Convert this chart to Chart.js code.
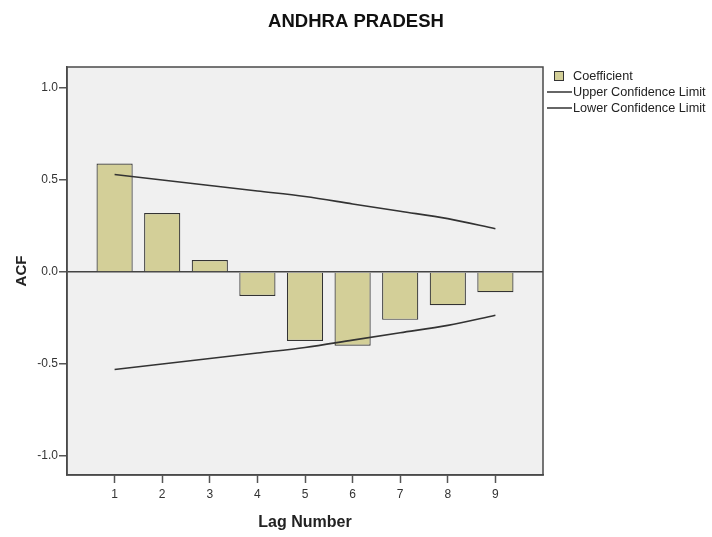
<!DOCTYPE html>
<html>
<head>
<meta charset="utf-8">
<title>ANDHRA PRADESH</title>
<script src="https://cdn.jsdelivr.net/npm/chart.js@4/dist/chart.umd.min.js"></script>
<style>
  html, body { margin: 0; padding: 0; background: #ffffff; }
  #wrap { width: 712px; height: 537px; position: relative; }
</style>
</head>
<body>
<div id="wrap"><canvas id="acfChart"></canvas></div>
<script>
// ACF by lag
const lags = [1, 2, 3, 4, 5, 6, 7, 8, 9];
const coefficient = [0.59, 0.32, 0.065, -0.13, -0.375, -0.40, -0.26, -0.18, -0.11];
const upperLimit = [0.53, 0.50, 0.47, 0.44, 0.41, 0.37, 0.33, 0.29, 0.235];
const lowerLimit = [-0.53, -0.50, -0.47, -0.44, -0.41, -0.37, -0.33, -0.29, -0.235];
const yTicks = [-1.0, -0.5, 0.0, 0.5, 1.0];

const FONT = 'Arial, "Liberation Sans", sans-serif';

const toPoints = (vals) => lags.map((lag, i) => ({ x: lag, y: vals[i] }));

// grey plot panel + frame
const panel = {
  id: 'panel',
  beforeDraw(chart) {
    const { ctx, chartArea: a } = chart;
    ctx.save();
    ctx.fillStyle = '#f0f0f0';
    ctx.fillRect(a.left, a.top, a.right - a.left, a.bottom - a.top);
    ctx.restore();
  },
  afterDraw(chart) {
    const { ctx, chartArea: a } = chart;
    ctx.save();
    ctx.strokeStyle = '#4a4a4a';
    ctx.lineWidth = 1.5;
    ctx.strokeRect(a.left, a.top, a.right - a.left, a.bottom - a.top);
    ctx.restore();
  }
};

// legend on the right, SPSS style
const sideLegend = {
  id: 'sideLegend',
  afterDraw(chart) {
    const ctx = chart.ctx;
    const x = 547, textX = 573;
    let y = 76;
    ctx.save();
    ctx.font = '12.7px ' + FONT;
    ctx.textBaseline = 'middle';
    chart.data.datasets.forEach((ds) => {
      if (ds.type === 'line') {
        ctx.strokeStyle = ds.borderColor;
        ctx.lineWidth = 1.5;
        ctx.beginPath();
        ctx.moveTo(x, y);
        ctx.lineTo(textX - 1, y);
        ctx.stroke();
      } else {
        ctx.fillStyle = ds.backgroundColor;
        ctx.fillRect(x + 7.5, y - 4.5, 9, 9);
        ctx.strokeStyle = ds.borderColor;
        ctx.lineWidth = 1;
        ctx.strokeRect(x + 7.5, y - 4.5, 9, 9);
      }
      ctx.fillStyle = '#222';
      ctx.fillText(ds.label, textX, y);
      y += 16;
    });
    ctx.restore();
  }
};

const ctx = document.getElementById('acfChart').getContext('2d');
new Chart(ctx, {
  type: 'bar',
  data: {
    datasets: [
      {
        label: 'Coefficient',
        data: toPoints(coefficient),
        backgroundColor: '#d3cf98',
        borderColor: '#333333',
        borderWidth: 1.2,
        barPercentage: 0.76,
        categoryPercentage: 1,
        order: 2
      },
      {
        type: 'line',
        label: 'Upper Confidence Limit',
        data: toPoints(upperLimit),
        borderColor: '#333333',
        borderWidth: 1.6,
        pointRadius: 0,
        cubicInterpolationMode: 'monotone',
        fill: false,
        order: 1
      },
      {
        type: 'line',
        label: 'Lower Confidence Limit',
        data: toPoints(lowerLimit),
        borderColor: '#333333',
        borderWidth: 1.6,
        pointRadius: 0,
        cubicInterpolationMode: 'monotone',
        fill: false,
        order: 1
      }
    ]
  },
  options: {
    responsive: true,
    maintainAspectRatio: false,
    animation: false,
    layout: { padding: 0 },
    plugins: {
      legend: { display: false },
      tooltip: { enabled: false },
      title: {
        display: true,
        text: 'ANDHRA PRADESH',
        color: '#111',
        font: { family: FONT, size: 18.5, weight: 'bold', lineHeight: 1.2 },
        padding: { top: 11, bottom: 33.8 }
      }
    },
    scales: {
      x: {
        type: 'linear',
        min: 0,
        max: 10,
        offset: false,
        afterFit(scale) { scale.height = 62; },
        afterBuildTicks(scale) { scale.ticks = lags.map(v => ({ value: v })); },
        ticks: {
          color: '#333',
          font: { family: FONT, size: 12 },
          padding: 4,
          maxRotation: 0,
          callback: (v) => String(v)
        },
        grid: { offset: false, drawOnChartArea: false, drawTicks: true, tickLength: 8, tickColor: '#555', tickWidth: 1.5 },
        border: { display: true, color: '#4a4a4a', width: 1.5 },
        title: {
          display: true,
          text: 'Lag Number',
          color: '#222',
          font: { family: FONT, size: 16, weight: 'bold', lineHeight: 1.2 },
          padding: { top: 0, bottom: 5 }
        }
      },
      y: {
        min: -1.103,
        max: 1.114,
        afterFit(scale) { scale.width = 67; },
        afterBuildTicks(scale) { scale.ticks = yTicks.map(v => ({ value: v })); },
        ticks: {
          color: '#333',
          font: { family: FONT, size: 12 },
          padding: 1,
          callback: (v) => Number(v).toFixed(1)
        },
        grid: {
          drawOnChartArea: true,
          drawTicks: true,
          tickLength: 8,
          tickColor: '#555',
          tickWidth: 1.5,
          lineWidth: 1.5,
          color: (c) => (c.tick && c.tick.value === 0 ? '#444' : 'rgba(0,0,0,0)')
        },
        border: { display: true, color: '#4a4a4a', width: 1.5 },
        title: {
          display: true,
          text: 'ACF',
          color: '#222',
          font: { family: FONT, size: 15, weight: 'bold', lineHeight: 1.2 },
          padding: { top: 13, bottom: 0 }
        }
      },
      // empty right-hand gutter that holds the legend
      gutter: {
        type: 'linear',
        position: 'right',
        display: true,
        afterFit(scale) { scale.width = 169; },
        ticks: { display: false },
        grid: { display: false, drawTicks: false },
        border: { display: false }
      }
    }
  },
  plugins: [panel, sideLegend]
});
</script>
</body>
</html>
